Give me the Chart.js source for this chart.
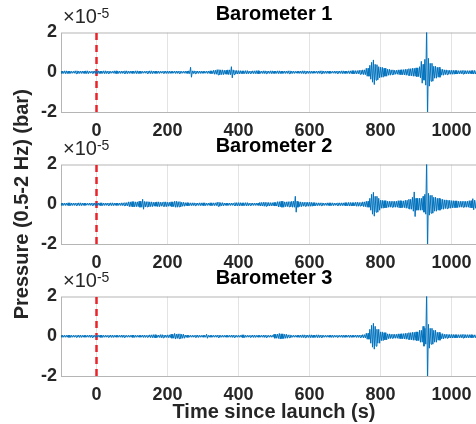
<!DOCTYPE html>
<html>
<head>
<meta charset="utf-8">
<script src="https://cdn.jsdelivr.net/npm/chart.js@4.4.1/dist/chart.umd.min.js"></script>
<style>
  html, body { margin: 0; padding: 0; background: #fff; overflow: hidden; }
  #wrap { position: relative; width: 476px; height: 424px; overflow: hidden; }
  canvas { position: absolute; left: 0; top: 0; }
  .exp { position: absolute; left: 63px; font: 20px "Liberation Sans", Arial, sans-serif; line-height: 20px; color: #262626; }
  .exp sup { font-size: 14px; position: relative; top: -3px; vertical-align: top; }
</style>
</head>
<body>
<div id="wrap">
  <canvas id="c0" width="487" height="424"></canvas>
  <canvas id="c1" width="487" height="424"></canvas>
  <canvas id="c2" width="487" height="424"></canvas>
  <div class="exp" style="top:6px">&times;10<sup>-5</sup></div>
  <div class="exp" style="top:138px">&times;10<sup>-5</sup></div>
  <div class="exp" style="top:270px">&times;10<sup>-5</sup></div>
</div>
<script>
// background envelope of the filtered pressure, in units of 1e-5 bar,
// one value per 10 s bin starting at -100 s
const T0 = -100
const DT = 10

const baro1 = [
  0.06, 0.07, 0.06, 0.05, 0.07, 0.06, 0.06, 0.07, 0.05, 0.06,
  0.07, 0.06, 0.07, 0.06, 0.05, 0.07, 0.06, 0.06, 0.07, 0.06,
  0.06, 0.07, 0.06, 0.05, 0.06, 0.07, 0.06, 0.06, 0.05, 0.06,
  0.06, 0.05, 0.06, 0.06, 0.05, 0.06, 0.07, 0.07, 0.06, 0.06,
  0.05, 0.06, 0.07, 0.10, 0.13, 0.12, 0.10, 0.12, 0.12, 0.09,
  0.08, 0.07, 0.08, 0.06, 0.07, 0.08, 0.06, 0.07, 0.06, 0.07,
  0.06, 0.07, 0.06, 0.06, 0.07, 0.06, 0.05, 0.06, 0.07, 0.06,
  0.06, 0.05, 0.06, 0.07, 0.06, 0.06, 0.05, 0.06, 0.06, 0.07,
  0.06, 0.07, 0.08, 0.08, 0.10, 0.12, 0.20, 0.35, 0.40, 0.28,
  0.25, 0.20, 0.15, 0.12, 0.10, 0.12, 0.13, 0.15, 0.18, 0.20,
  0.22, 0.28, 0.40, 0.50, 0.45, 0.30, 0.25, 0.15, 0.12, 0.10,
  0.10, 0.09, 0.08, 0.09, 0.08, 0.08, 0.09, 0.08, 0.08, 0.07,
  0.08
]

const baro2 = [
  0.06, 0.06, 0.07, 0.06, 0.06, 0.07, 0.06, 0.05, 0.06, 0.06,
  0.06, 0.07, 0.06, 0.06, 0.07, 0.06, 0.06, 0.07, 0.08, 0.12,
  0.13, 0.12, 0.15, 0.14, 0.13, 0.12, 0.10, 0.12, 0.10, 0.12,
  0.10, 0.12, 0.15, 0.13, 0.10, 0.08, 0.07, 0.07, 0.06, 0.07,
  0.07, 0.06, 0.07, 0.07, 0.10, 0.08, 0.06, 0.06, 0.06, 0.08,
  0.08, 0.07, 0.08, 0.06, 0.06, 0.06, 0.09, 0.10, 0.09, 0.08,
  0.09, 0.13, 0.15, 0.12, 0.13, 0.15, 0.15, 0.12, 0.10, 0.10,
  0.10, 0.08, 0.07, 0.07, 0.06, 0.07, 0.07, 0.06, 0.07, 0.07,
  0.08, 0.09, 0.08, 0.10, 0.09, 0.12, 0.15, 0.30, 0.40, 0.30,
  0.20, 0.18, 0.15, 0.15, 0.15, 0.18, 0.17, 0.20, 0.25, 0.35,
  0.30, 0.30, 0.40, 0.50, 0.45, 0.35, 0.30, 0.25, 0.22, 0.20,
  0.18, 0.17, 0.15, 0.15, 0.15, 0.18, 0.20, 0.20, 0.18, 0.15,
  0.15
]

const baro3 = [
  0.05, 0.05, 0.06, 0.05, 0.05, 0.06, 0.05, 0.05, 0.06, 0.05,
  0.05, 0.06, 0.05, 0.05, 0.06, 0.05, 0.05, 0.06, 0.05, 0.05,
  0.06, 0.05, 0.05, 0.06, 0.05, 0.07, 0.08, 0.06, 0.08, 0.06,
  0.07, 0.10, 0.11, 0.12, 0.10, 0.06, 0.05, 0.05, 0.06, 0.05,
  0.05, 0.05, 0.05, 0.05, 0.06, 0.05, 0.05, 0.05, 0.06, 0.05,
  0.05, 0.07, 0.05, 0.05, 0.06, 0.05, 0.05, 0.06, 0.05, 0.05,
  0.10, 0.11, 0.12, 0.10, 0.07, 0.05, 0.05, 0.06, 0.07, 0.06,
  0.07, 0.06, 0.07, 0.06, 0.05, 0.05, 0.06, 0.05, 0.05, 0.06,
  0.05, 0.06, 0.05, 0.06, 0.06, 0.08, 0.15, 0.35, 0.45, 0.35,
  0.22, 0.18, 0.12, 0.10, 0.10, 0.12, 0.13, 0.15, 0.18, 0.20,
  0.22, 0.30, 0.40, 0.50, 0.40, 0.30, 0.20, 0.13, 0.10, 0.09,
  0.09, 0.08, 0.08, 0.09, 0.08, 0.08, 0.07, 0.08, 0.08, 0.07,
  0.08
]

// single sharp swings standing out of the background (time in s, amplitude in 1e-5 bar)
const spikeT1 = [264, 383, 775, 782, 793, 918, 927, 932, 937]
const spikeA1 = [0.25, 0.28, 0.50, 0.62, 0.38, 0.55, 0.65, 2.40, 0.70]
const spikeT2 = [132, 562, 776, 782, 790, 894, 898, 927, 932, 937, 1062]
const spikeA2 = [0.25, 0.40, 0.50, 0.60, 0.40, 0.55, 0.62, 0.50, 2.40, 0.55, 0.28]
const spikeT3 = [222, 312, 515, 775, 782, 788, 922, 932, 938]
const spikeA3 = [0.14, 0.10, 0.14, 0.55, 0.65, 0.50, 0.50, 2.40, 0.60]

const titles = ['Barometer 1', 'Barometer 2', 'Barometer 3']
const xTicks = [0, 200, 400, 600, 800, 1000]
const yTicks = [-2, 0, 2]
const launchLine = [{ x: 0, y: -2 }, { x: 0, y: 2 }]

const BLUE = '#0072BD'
const RED = '#e8232a'
const GRID = '#e3e3e3'
const AXIS = '#b5b5b5'
const INK = '#262626'
const FONT = '"Liberation Sans", Arial, Helvetica, sans-serif'
const SWINGS = 2 // up/down swings drawn inside each bin

// each bin is drawn as a couple of up/down swings at its amplitude,
// spikes are laid over it as one swing each
function trace(env, spikeT, spikeA) {
  const step = DT / (2 * SWINGS)
  const pts = []
  env.forEach((a, i) => {
    const t = T0 + i * DT
    for (let k = 0; k < 2 * SWINGS; k++) {
      pts.push({ x: t + k * step, y: k % 2 ? -a : a })
    }
  })
  // a spike replaces the background swing that falls at its time
  spikeT.forEach((t, i) => {
    const k = Math.round((t - T0) / step)
    const j = k % 2 ? k - 1 : k
    pts[j] = { x: T0 + j * step, y: spikeA[i] }
    pts[j + 1] = { x: T0 + (j + 1) * step, y: -spikeA[i] }
  })
  return pts
}

const boxPlugin = {
  id: 'box',
  beforeDatasetsDraw(chart) {
    const { ctx, chartArea: a } = chart
    ctx.save()
    ctx.strokeStyle = AXIS
    ctx.lineWidth = 1
    ctx.strokeRect(a.left + 0.5, a.top + 0.5, a.right - a.left, a.bottom - a.top)
    ctx.restore()
  }
}

function makePanel(idx, points) {
  const xh = idx === 2 ? 48 : 33
  const bottomPad = 424 - (112 + 132 * idx) - xh
  return new Chart(document.getElementById('c' + idx), {
    type: 'line',
    data: {
      datasets: [
        { data: points, borderColor: BLUE, borderWidth: 1, pointRadius: 0, tension: 0 },
        { data: launchLine, borderColor: RED, borderWidth: 2.5, borderDash: [7, 5], pointRadius: 0 }
      ]
    },
    options: {
      responsive: false,
      animation: false,
      devicePixelRatio: 1,
      layout: { padding: { top: 132 * idx, bottom: bottomPad, left: 0, right: 0 } },
      plugins: {
        legend: { display: false },
        tooltip: { enabled: false },
        title: {
          display: true,
          text: titles[idx],
          fullSize: false,
          color: '#000',
          font: { family: FONT, size: 20, weight: 'bold' },
          padding: { top: 2, bottom: 6.5 }
        }
      },
      scales: {
        x: {
          type: 'linear',
          min: -100,
          max: 1100,
          afterBuildTicks: s => { s.ticks = xTicks.map(v => ({ value: v })) },
          afterFit: s => { s.height = xh },
          grid: { color: GRID, drawTicks: false },
          border: { display: false },
          ticks: {
            color: INK,
            font: { family: FONT, size: 18, weight: 'bold' },
            padding: 8,
            maxRotation: 0,
            callback: v => String(v)
          },
          title: {
            display: idx === 2,
            text: 'Time since launch (s)',
            color: INK,
            font: { family: FONT, size: 20, weight: 'bold' },
            padding: { top: 0, bottom: 0 }
          }
        },
        y: {
          min: -2,
          max: 2,
          afterBuildTicks: s => { s.ticks = yTicks.map(v => ({ value: v })) },
          afterFit: s => { s.width = 61 },
          grid: { display: false, drawTicks: false },
          border: { display: false },
          ticks: { color: INK, font: { family: FONT, size: 18, weight: 'bold' }, padding: 4 },
          title: {
            display: idx === 1,
            text: 'Pressure (0.5-2 Hz) (bar)',
            color: INK,
            font: { family: FONT, size: 20, weight: 'bold' },
            padding: { top: 10, bottom: 0 }
          }
        }
      }
    },
    plugins: [boxPlugin]
  })
}

makePanel(0, trace(baro1, spikeT1, spikeA1))
makePanel(1, trace(baro2, spikeT2, spikeA2))
makePanel(2, trace(baro3, spikeT3, spikeA3))
</script>
</body>
</html>
